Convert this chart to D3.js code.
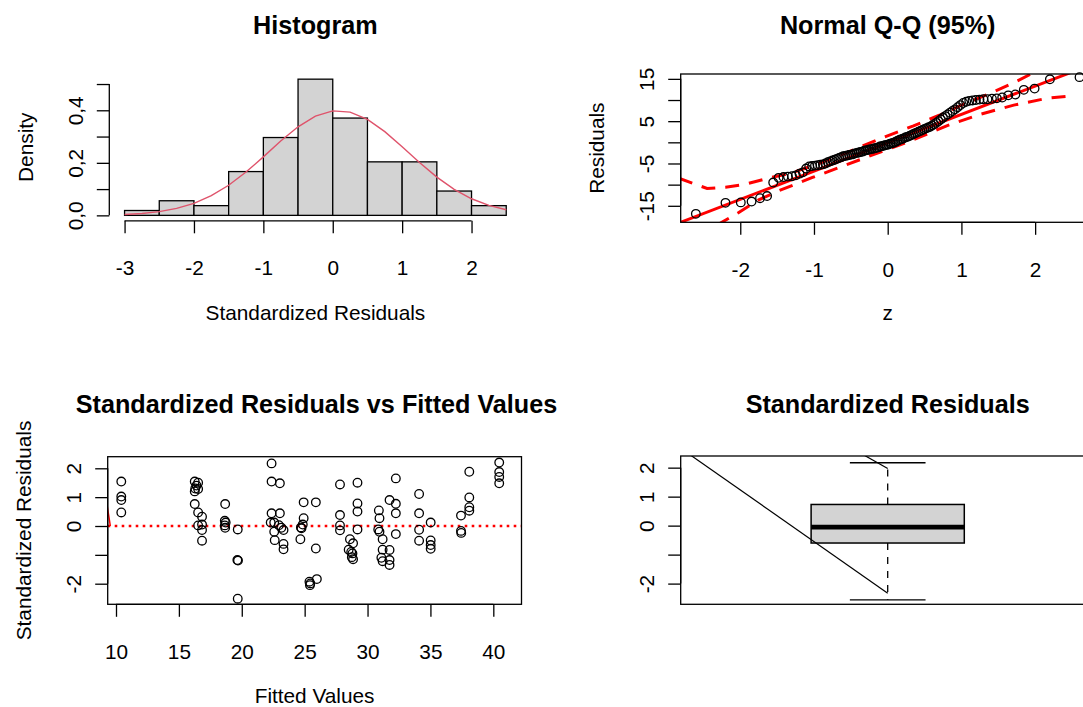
<!DOCTYPE html>
<html><head><meta charset="utf-8">
<script src="https://cdn.jsdelivr.net/npm/d3@7"></script>
<style>
body{margin:0;background:#fff}
svg{display:block}
text{font-family:"Liberation Sans",Arial,Helvetica,sans-serif;fill:#000}
</style>
</head><body>
<svg id="chart" width="1083" height="707"></svg>
<script>
// ---------------- DATA ----------------
// Histogram of standardized residuals
const histBreaks = [-3, -2.5, -2, -1.5, -1, -0.5, 0, 0.5, 1, 1.5, 2, 2.5];
const histDensity = [0.0185, 0.0556, 0.037, 0.1667, 0.2963, 0.5185, 0.3704, 0.2037, 0.2037, 0.0926, 0.037];
const curveX = [-3, -2.75, -2.5, -2.25, -2, -1.75, -1.5, -1.25, -1, -0.75, -0.5, -0.25, 0, 0.25, 0.5, 0.75, 1, 1.25, 1.5, 1.75, 2, 2.25, 2.5];
const curveY = [0.0035, 0.0073, 0.0143, 0.0264, 0.0459, 0.0748, 0.1146, 0.1648, 0.2227, 0.2828, 0.3372, 0.3778, 0.3977, 0.3932, 0.3653, 0.3187, 0.2613, 0.2012, 0.1456, 0.0990, 0.0632, 0.0379, 0.0213];
const histXTicks = [-3, -2, -1, 0, 1, 2];
const histYTicks = [0, 0.1, 0.2, 0.3, 0.4, 0.5];
const histYLabels = ["0,0", "", "0,2", "", "0,4", ""];

// Normal Q-Q: sorted residuals
const qqResiduals = [-16.9,-14.3,-14.2,-14.0,-13.2,-12.7,-9.5,-8.4,-8.2,-8.1,-8.0,-7.8,-7.4,-7.1,-6.2,-5.7,-5.6,-5.5,-5.4,-5.3,-5.2,-5.0,-4.7,-4.5,-4.3,-4.1,-3.9,-3.7,-3.5,-3.3,
 -3.2,-3.1,-3.0,-2.9,-2.8,-2.6,-2.5,-2.4,-2.3,-2.2,-2.0,-1.9,-1.8,-1.7,-1.6,-1.5,-1.4,-1.3,-1.2,-1.0,-0.9,-0.8,-0.7,-0.6,-0.5,-0.3,-0.2,-0.1,
 0.1,0.3,0.5,0.7,0.8,1.0,1.2,1.3,1.5,1.7,1.9,2.1,2.3,2.5,2.7,2.9,3.1,3.3,3.5,3.7,4.0,
 4.3,4.6,5.0,5.4,5.8,6.2,6.6,7.0,7.4,7.8,8.3,8.8,
 9.3,9.6,9.8,9.9,10.0,10.1,10.2,10.2,10.3,10.4,
 10.6,11.1,11.3,12.4,12.7,14.9,15.4];
const qqLineZ = [-2.9, 2.9];
const qqLineR = [-19.5, 19.3];
const qqUpperZ = [-2.83, -2.45, -2.2, -1.93, -1.65, -1.3, -0.95, -0.55, -0.1, 0.35, 0.7, 1.03, 1.39, 1.71, 1.95, 2.3];
const qqUpperR = [-8.5, -10.9, -10.6, -9.9, -8.6, -7.2, -5.1, -2.4, 0.9, 3.9, 6.4, 9.0, 11.6, 14.1, 16.2, 19.5];
const qqLowerZ = [-2.6, -2.25, -2.02, -1.75, -1.47, -1.02, -0.56, -0.1, 0.35, 0.8, 1.25, 1.71, 2.16, 2.44];
const qqLowerR = [-22.5, -18.9, -16.6, -13.6, -11.4, -8.3, -5.3, -2.3, 0.6, 3.9, 6.6, 8.8, 10.4, 10.9];
const qqXTicks = [-2, -1, 0, 1, 2];
const qqYTicks = [-15, -10, -5, 0, 5, 10, 15];
const qqYLabels = ["-15", "", "-5", "", "5", "", "15"];

// Standardized residuals vs fitted values
const fittedValues = [
 10.42,10.42,10.42,10.42,
 16.26,16.53,16.4,16.3,16.53,16.26,16.26,16.53,16.84,16.53,16.84,16.84,16.84,
 18.68,18.65,18.72,18.65,18.68,
 19.68,19.65,19.7,19.68,
 22.37,22.37,23.03,22.37,23.03,22.3,22.58,22.95,23.15,22.58,23.32,22.62,23.32,23.32,
 24.92,24.92,24.85,24.7,24.75,24.66,25.89,25.89,25.38,25.42,25.45,25.97,
 27.81,29.2,27.81,29.2,29.2,27.81,27.81,29.2,28.6,28.85,28.5,28.7,28.8,28.75,28.85,
 30.9,30.95,30.85,30.95,31.2,31.2,31.1,31.2,31.75,31.75,31.75,31.75,32.25,32.25,32.25,32.25,
 34.1,34.1,34.1,34.1,35.02,35.02,35.02,35.02,
 37.43,37.43,37.45,38.09,38.09,38.09,38.09,
 40.47,40.47,40.47,40.47];
const stdResiduals = [
 1.54,1.02,0.9,0.47,
 1.54,1.5,1.4,1.3,1.28,1.2,0.76,0.47,0.32,0.02,0.05,-0.14,-0.51,
 0.76,0.18,0.12,0.02,-0.06,
 -0.12,-1.18,-1.2,-2.52,
 2.17,1.54,1.48,0.44,0.44,0.12,0.12,0.03,-0.06,-0.2,-0.14,-0.49,-0.62,-0.81,
 0.82,0.27,0.05,-0.05,-0.08,-0.46,0.82,-0.78,-1.93,-2.05,-1.99,-1.84,
 1.44,1.5,0.38,0.78,0.5,0.02,-0.15,-0.12,-0.46,-0.6,-0.82,-0.9,-0.95,-1.08,-1.15,
 0.54,0.27,-0.12,-0.2,-0.46,-0.82,-1.1,-1.22,0.9,-0.83,-1.18,-1.35,1.65,0.77,0.44,-0.28,
 1.11,0.44,-0.13,-0.51,0.12,-0.5,-0.66,-0.79,
 0.36,-0.17,-0.24,1.88,0.99,0.65,0.53,
 2.2,1.87,1.7,1.48];
const smoothX = [9.2, 9.55];
const smoothY = [0.97, 0];
const fitXTicks = [10, 15, 20, 25, 30, 35, 40];
const resYTicks = [-2, -1, 0, 1, 2];
const resYLabels = ["-2", "", "0", "1", "2"];

// Boxplot of standardized residuals: min, Q1, median, Q3, max
const boxStats = [-2.56, -0.6, -0.05, 0.73, 2.17];
const boxLine1X = [0.45, 1.0], boxLine1Y = [3.17, -2.33];
const boxLine2X = [0.88, 1.0], boxLine2Y = [2.94, 1.97];

// ---------------- DRAWING ----------------
const svg = d3.select("#chart");
const FS = 20.8, TFS = 25.2, TICK = 12.5, PR = 4.3;
svg.append("rect").attr("width",1083).attr("height",707).attr("fill","#fff");

function clip(id, L, R, T, B){
  svg.append("clipPath").attr("id", id).append("rect")
    .attr("x", L).attr("y", T).attr("width", R - L).attr("height", B - T);
}
function title(txt, cx, y){
  svg.append("text").attr("x", cx).attr("y", y).attr("text-anchor","middle")
    .attr("font-size", TFS).attr("font-weight","bold").text(txt);
}
function xlabel(txt, cx, y){
  svg.append("text").attr("x", cx).attr("y", y).attr("text-anchor","middle").attr("font-size", FS).text(txt);
}
function ylabel(txt, x, cy){
  svg.append("text").attr("transform", `translate(${x},${cy}) rotate(-90)`).attr("text-anchor","middle").attr("font-size", FS).text(txt);
}
function bottomAxis(scale, ticks, yPos, labels){
  const ax = d3.axisBottom(scale).tickValues(ticks).tickSize(TICK).tickSizeOuter(0)
    .tickFormat((d,i) => labels ? labels[i] : String(d));
  const g = svg.append("g").attr("transform", `translate(0,${yPos})`).call(ax);
  g.select(".domain").remove();
  g.append("line").attr("x1", scale(ticks[0])).attr("x2", scale(ticks[ticks.length-1]))
    .attr("stroke","#000").attr("stroke-width",1.3);
  g.selectAll(".tick line").attr("stroke","#000").attr("stroke-width",1.3);
  g.selectAll(".tick text").attr("font-size", FS).attr("font-family", null)
    .attr("y", 54.5).attr("dy", 0);
}
function leftAxis(scale, ticks, xPos, labels){
  const ax = d3.axisLeft(scale).tickValues(ticks).tickSize(TICK).tickSizeOuter(0)
    .tickFormat((d,i) => labels[i]);
  const g = svg.append("g").attr("transform", `translate(${xPos},0)`).call(ax);
  g.select(".domain").remove();
  g.append("line").attr("y1", scale(ticks[0])).attr("y2", scale(ticks[ticks.length-1]))
    .attr("stroke","#000").attr("stroke-width",1.3);
  g.selectAll(".tick line").attr("stroke","#000").attr("stroke-width",1.3);
  g.selectAll(".tick text").attr("font-size", FS).attr("font-family", null)
    .attr("x", null).attr("dy", 0).attr("text-anchor","middle")
    .attr("transform", "translate(-26.5,0) rotate(-90)");
}
function box(L, R, T, B){
  svg.append("rect").attr("x", L).attr("y", T).attr("width", R - L).attr("height", B - T)
    .attr("fill","none").attr("stroke","#000").attr("stroke-width",1.3);
}

// ---- Panel 1: Histogram ----
{
  const L = 109.3, R = 521.5, T = 73.7, B = 220.8;
  const x = d3.scaleLinear().domain([-3.22, 2.72]).range([L, R]);
  const y = d3.scaleLinear().domain([-0.0207, 0.5393]).range([B, T]);
  const bars = histDensity.map((d,i) => ({x0: histBreaks[i], x1: histBreaks[i+1], d}));
  svg.append("g").selectAll("rect").data(bars).join("rect")
    .attr("x", d => x(d.x0)).attr("width", d => x(d.x1) - x(d.x0))
    .attr("y", d => y(d.d)).attr("height", d => y(0) - y(d.d))
    .attr("fill","#d3d3d3").attr("stroke","#000").attr("stroke-width",1.3);
  const pts = curveX.map((v,i) => [v, curveY[i]]);
  svg.append("path").datum(pts)
    .attr("d", d3.line().x(d => x(d[0])).y(d => y(d[1])))
    .attr("fill","none").attr("stroke","#DF536B").attr("stroke-width",1.4);
  bottomAxis(x, histXTicks, B, null);
  leftAxis(y, histYTicks, L, histYLabels);
  title("Histogram", (L+R)/2, 33.5);
  xlabel("Standardized Residuals", (L+R)/2, 319.5);
  ylabel("Density", L - 76.5, (T+B)/2);
}

// ---- Panel 2: Normal Q-Q ----
function qnorm(p){
  const a=[-3.969683028665376e+01,2.209460984245205e+02,-2.759285104469687e+02,1.383577518672690e+02,-3.066479806614716e+01,2.506628277459239e+00];
  const b=[-5.447609879822406e+01,1.615858368580409e+02,-1.556989798598866e+02,6.680131188771972e+01,-1.328068155288572e+01];
  const c=[-7.784894002430293e-03,-3.223964580411365e-01,-2.400758277161838e+00,-2.549732539343734e+00,4.374664141464968e+00,2.938163982698783e+00];
  const d=[7.784695709041462e-03,3.224671290700398e-01,2.445134137142996e+00,3.754408661907416e+00];
  const pl=0.02425, ph=1-pl; let q, r;
  if(p<pl){q=Math.sqrt(-2*Math.log(p));return (((((c[0]*q+c[1])*q+c[2])*q+c[3])*q+c[4])*q+c[5])/((((d[0]*q+d[1])*q+d[2])*q+d[3])*q+1);}
  if(p>ph){q=Math.sqrt(-2*Math.log(1-p));return -(((((c[0]*q+c[1])*q+c[2])*q+c[3])*q+c[4])*q+c[5])/((((d[0]*q+d[1])*q+d[2])*q+d[3])*q+1);}
  q=p-0.5; r=q*q; return (((((a[0]*r+a[1])*r+a[2])*r+a[3])*r+a[4])*r+a[5])*q/(((((b[0]*r+b[1])*r+b[2])*r+b[3])*r+b[4])*r+1);
}
{
  const L = 680.7, R = 1094.7, T = 74, B = 222.3;
  const x = d3.scaleLinear().domain([-2.808, 2.808]).range([L, R]);
  const y = d3.scaleLinear().domain([-18.9, 16.15]).range([B, T]);
  clip("clipQQ", L, R, T, B);
  const n = qqResiduals.length;
  const pts = qqResiduals.map((r,i) => [qnorm((i + 0.5) / n), r]);
  const g = svg.append("g").attr("clip-path","url(#clipQQ)");
  const line = d3.line().x(d => x(d[0])).y(d => y(d[1]));
  g.append("path").datum(qqUpperZ.map((z,i) => [z, qqUpperR[i]])).attr("d", line)
    .attr("fill","none").attr("stroke","#ff0000").attr("stroke-width",3).attr("stroke-dasharray","14,10");
  g.append("path").datum(qqLowerZ.map((z,i) => [z, qqLowerR[i]])).attr("d", line)
    .attr("fill","none").attr("stroke","#ff0000").attr("stroke-width",3).attr("stroke-dasharray","14,10");
  svg.append("g").selectAll("circle").data(pts).join("circle")
    .attr("cx", d => x(d[0])).attr("cy", d => y(d[1])).attr("r", PR)
    .attr("fill","none").attr("stroke","#000").attr("stroke-width",1.3);
  g.append("path").datum(qqLineZ.map((z,i) => [z, qqLineR[i]])).attr("d", line)
    .attr("fill","none").attr("stroke","#ff0000").attr("stroke-width",3);
  box(L, R, T, B);
  bottomAxis(x, qqXTicks, B, null);
  leftAxis(y, qqYTicks, L, qqYLabels);
  title("Normal Q-Q (95%)", (L+R)/2, 33.5);
  xlabel("z", (L+R)/2, 319.5);
  ylabel("Residuals", L - 76.5, (T+B)/2);
}

// ---- Panel 3: Std residuals vs fitted ----
{
  const L = 107.7, R = 521.5, T = 456.7, B = 604.3;
  const x = d3.scaleLinear().domain([9.34, 9.34 + (R - L) / 12.577]).range([L, R]);
  const y = d3.scaleLinear().domain([-2.714, 2.402]).range([B, T]);
  clip("clipSR", L, R, T, B);
  const g = svg.append("g").attr("clip-path","url(#clipSR)");
  g.append("line").attr("x1", L).attr("x2", R).attr("y1", y(0)).attr("y2", y(0))
    .attr("stroke","#ff0000").attr("stroke-width",2.4).attr("stroke-dasharray","2.6,4.4");
  g.append("path").datum(smoothX.map((v,i) => [v, smoothY[i]]))
    .attr("d", d3.line().x(d => x(d[0])).y(d => y(d[1])))
    .attr("fill","none").attr("stroke","#ff0000").attr("stroke-width",1.5);
  svg.append("g").selectAll("circle").data(fittedValues.map((f,i) => [f, stdResiduals[i]])).join("circle")
    .attr("cx", d => x(d[0])).attr("cy", d => y(d[1])).attr("r", PR)
    .attr("fill","none").attr("stroke","#000").attr("stroke-width",1.3);
  box(L, R, T, B);
  bottomAxis(x, fitXTicks, B, null);
  leftAxis(y, resYTicks, L, resYLabels);
  title("Standardized Residuals vs Fitted Values", 316.5, 413.3);
  xlabel("Fitted Values", (L+R)/2, 703);
  ylabel("Standardized Residuals", L - 76.5, (T+B)/2);
}

// ---- Panel 4: Boxplot ----
{
  const L = 680.7, R = 1094.7, T = 456, B = 604.3;
  const x = d3.scaleLinear().domain([0.5, 1.5]).range([L, R]);
  const y = d3.scaleLinear().domain([-2.714, 2.402]).range([B, T]);
  clip("clipBX", L, R, T, B);
  const [mn, q1, md, q3, mx] = boxStats;
  const bw = 0.185, sw = 0.0914;
  const g = svg.append("g");
  g.append("line").attr("x1", x(1)).attr("x2", x(1)).attr("y1", y(q3)).attr("y2", y(mx))
    .attr("stroke","#000").attr("stroke-width",1.3).attr("stroke-dasharray","7,7");
  g.append("line").attr("x1", x(1)).attr("x2", x(1)).attr("y1", y(q1)).attr("y2", y(mn))
    .attr("stroke","#000").attr("stroke-width",1.3).attr("stroke-dasharray","7,7");
  [mn, mx].forEach(v => g.append("line").attr("x1", x(1 - sw)).attr("x2", x(1 + sw))
    .attr("y1", y(v)).attr("y2", y(v)).attr("stroke","#000").attr("stroke-width",1.3));
  g.append("rect").attr("x", x(1 - bw)).attr("width", x(1 + bw) - x(1 - bw))
    .attr("y", y(q3)).attr("height", y(q1) - y(q3))
    .attr("fill","#d3d3d3").attr("stroke","#000").attr("stroke-width",1.5);
  g.append("line").attr("x1", x(1 - bw)).attr("x2", x(1 + bw)).attr("y1", y(md)).attr("y2", y(md))
    .attr("stroke","#000").attr("stroke-width",4.7);
  const gc = svg.append("g").attr("clip-path","url(#clipBX)");
  const line = d3.line().x(d => x(d[0])).y(d => y(d[1]));
  gc.append("path").datum(boxLine1X.map((v,i) => [v, boxLine1Y[i]])).attr("d", line)
    .attr("fill","none").attr("stroke","#000").attr("stroke-width",1.2);
  gc.append("path").datum(boxLine2X.map((v,i) => [v, boxLine2Y[i]])).attr("d", line)
    .attr("fill","none").attr("stroke","#000").attr("stroke-width",1.2);
  box(L, R, T, B);
  leftAxis(y, resYTicks, L, resYLabels);
  title("Standardized Residuals", (L+R)/2, 413.3);
}
</script>
</body></html>
